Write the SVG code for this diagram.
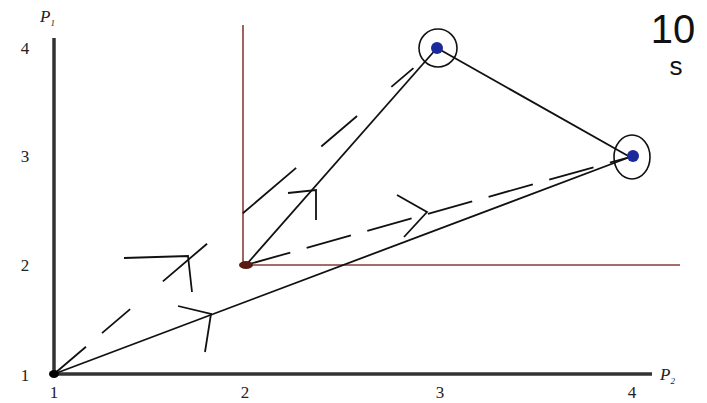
<svg xmlns="http://www.w3.org/2000/svg" width="707" height="403" viewBox="0 0 707 403">
<style>
.tick{font-family:"Liberation Serif",serif;font-size:17px;fill:#222;text-anchor:middle}
.axl{font-family:"Liberation Serif",serif;font-style:italic;font-size:17px;fill:#222}
.sub{font-size:9px}
.solid{stroke:#111;stroke-width:1.8;fill:none}
.dash{stroke:#111;stroke-width:1.8;fill:none}
.red{stroke:#8b3a3a;stroke-width:1.6;fill:none}
.axis{stroke:#333;stroke-width:3.5;fill:none}
.arr{stroke:#111;stroke-width:1.8;fill:none}
.ring{stroke:#111;stroke-width:1.6;fill:none}
.big{font-family:"Liberation Sans",Arial,sans-serif;fill:#111;text-anchor:middle}
</style>
<rect width="707" height="403" fill="#fff"/>
<g id="axes">
<line class="axis" x1="54" y1="38" x2="54" y2="374"/>
<line class="axis" x1="54" y1="374" x2="652" y2="374"/>
<text class="axl" x="40" y="22">P<tspan class="sub" dy="4">1</tspan></text>
<text class="axl" x="660" y="380">P<tspan class="sub" dy="4">2</tspan></text>
<text class="tick" x="54" y="398">1</text>
<text class="tick" x="245" y="398">2</text>
<text class="tick" x="440" y="398">3</text>
<text class="tick" x="632" y="398">4</text>
<text class="tick" x="25" y="381">1</text>
<text class="tick" x="25" y="271">2</text>
<text class="tick" x="25" y="162">3</text>
<text class="tick" x="25" y="54">4</text>
</g>
<g id="constraints">
<line class="red" x1="243" y1="25" x2="243" y2="265"/>
<line class="red" x1="243" y1="265" x2="680" y2="265"/>
</g>
<g id="connectors">
<line class="solid" x1="54" y1="374" x2="630" y2="157"/>
<line class="solid" x1="246" y1="265" x2="437" y2="48"/>
<line class="solid" x1="437" y1="48" x2="630" y2="157"/>
<line class="dash" x1="54" y1="374" x2="437" y2="48" stroke-dasharray="42 21 37 43 58 47 70 33 47 45 29 40"/>
<line class="dash" x1="246" y1="265" x2="630" y2="157" stroke-dasharray="46 17"/>
<path class="arr" d="M124 258 L188 256 L192 292"/>
<path class="arr" d="M178 306 L211 314 L205 352"/>
<path class="arr" d="M288 193 L316 190 L316 220"/>
<path class="arr" d="M397 195 L427 212 L404 237"/>
</g>
<g id="node-origin"><ellipse cx="54" cy="374" rx="5" ry="4" fill="#000"/></g>
<g id="node-22"><ellipse cx="246" cy="265" rx="7" ry="4" fill="#5a1a12"/></g>
<g id="node-34">
<circle cx="437" cy="48" r="6" fill="#1a2a9a"/>
<circle class="ring" cx="438" cy="48" r="19"/>
</g>
<g id="node-43">
<circle cx="633" cy="156" r="6" fill="#1a2a9a"/>
<ellipse class="ring" cx="632" cy="157" rx="18" ry="22"/>
</g>
<g id="time">
<text class="big" x="673" y="43" font-size="40">10</text>
<text class="big" x="676" y="75" font-size="26">s</text>
</g>
</svg>
